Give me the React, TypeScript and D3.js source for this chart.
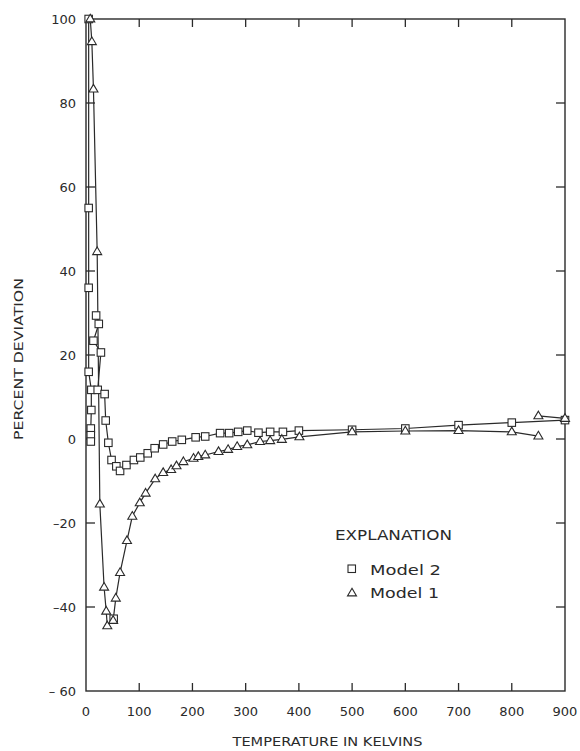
import React from "react";
import * as d3 from "d3";

// Model 2 (squares) — low-temperature column
const m2aT = [5, 5, 5, 5, 10, 10, 9, 9, 9];
const m2aV = [100, 55, 36, 16, 11.7, 6.9, 2.5, 0.9, -0.6];
// Model 2 (squares) — main curve
const m2bT = [19, 24, 14, 28, 22, 35, 37, 42, 48, 57, 64, 76, 90, 102, 116, 129, 145, 162, 180, 206, 224, 252, 269, 286, 303, 324, 346, 370, 400, 500, 600, 700, 800, 900];
const m2bV = [29.4, 27.4, 23.4, 20.6, 11.7, 10.7, 4.4, -0.9, -5, -6.5, -7.6, -6.2, -5.0, -4.4, -3.4, -2.2, -1.3, -0.6, -0.2, 0.4, 0.6, 1.4, 1.4, 1.7, 2.0, 1.5, 1.7, 1.7, 2.0, 2.2, 2.5, 3.3, 3.9, 4.5];
// Model 2 isolated point
const m2xT = [52];
const m2xV = [-42.8];

// Model 1 (triangles)
const m1T = [8, 11, 14, 21, 26, 34, 38, 40, 51, 56, 64, 77, 87, 101, 112, 130, 145, 160, 170, 183, 202, 211, 224, 249, 267, 284, 303, 327, 346, 368, 401, 500, 600, 700, 800, 850];
const m1V = [100, 94.6, 83.3, 44.6, -15.5, -35.3, -41, -44.5, -43.2, -37.9, -31.8, -24.2, -18.4, -15.2, -12.9, -9.5, -8.0, -7.3, -6.4, -5.4, -4.6, -4.2, -3.8, -3.0, -2.5, -1.8, -1.4, -0.6, -0.4, -0.1, 0.5, 1.7, 1.9, 2.0, 1.7, 0.7];
const m1tailT = [850, 900];
const m1tailV = [5.5, 4.9];

const xTicks = [0, 100, 200, 300, 400, 500, 600, 700, 800, 900];
const yTicks = [-60, -40, -20, 0, 20, 40, 60, 80, 100];
const yTickLabels = ["– 60", "–40", "–20", "0", "20", "40", "60", "80", "100"];

const W = 580, H = 751;
const INK = "#2a2a2a";
const FONT = "'DejaVu Sans', Verdana, sans-serif";

type P = [number, number];
const zip = (t: number[], v: number[]): P[] => t.map((d, i) => [d, v[i]]);

export default function App() {
  const x = d3.scaleLinear().domain([0, 900]).range([86, 565]);
  const y = d3.scaleLinear().domain([-60, 100]).range([691, 19]);
  const line = d3.line<P>().x(d => x(d[0])).y(d => y(d[1]));

  const m2a = zip(m2aT, m2aV);
  const m2b = zip(m2bT, m2bV);
  const m2x = zip(m2xT, m2xV);
  const m1 = zip(m1T, m1V);
  const m1tail = zip(m1tailT, m1tailV);

  const sq = 7.5;
  const tri = (cx: number, cy: number, s = 9) => {
    const h = s * 0.85;
    return `M${cx},${cy - h * 0.62}L${cx + s / 2},${cy + h * 0.38}L${cx - s / 2},${cy + h * 0.38}Z`;
  };

  const [x0, x1] = x.range();
  const [yb, yt] = y.range();

  return (
    <svg width={W} height={H} style={{ position: "absolute", left: 0, top: 0, background: "#fff" }} fontFamily={FONT}>
      <rect x={0} y={0} width={W} height={H} fill="#fff" />
      {/* frame */}
      <rect x={x0} y={yt} width={x1 - x0} height={yb - yt} fill="none" stroke={INK} strokeWidth={1.4} />
      {/* x ticks bottom & top */}
      {xTicks.filter(t => t > 0 && t < 900).map(t => (
        <g key={"xt" + t}>
          <line x1={x(t)} x2={x(t)} y1={yb} y2={yb - 8} stroke={INK} strokeWidth={1.3} />
          <line x1={x(t)} x2={x(t)} y1={yt} y2={yt + 8} stroke={INK} strokeWidth={1.3} />
        </g>
      ))}
      {/* y ticks left & right */}
      {yTicks.filter(t => t > -60 && t < 100).map(t => (
        <g key={"yt" + t}>
          <line x1={x0} x2={x0 + 9} y1={y(t)} y2={y(t)} stroke={INK} strokeWidth={1.3} />
          <line x1={x1} x2={x1 - 9} y1={y(t)} y2={y(t)} stroke={INK} strokeWidth={1.3} />
        </g>
      ))}
      {/* tick labels */}
      {xTicks.map(t => (
        <text key={"xl" + t} x={x(t)} y={yb + 25} textAnchor="middle" fontSize={13} fill={INK}>{t}</text>
      ))}
      {yTicks.map((t, i) => (
        <text key={"yl" + t} x={x0 - 10} y={y(t) + 5} textAnchor="end" fontSize={13} fill={INK}>{yTickLabels[i]}</text>
      ))}
      {/* axis titles */}
      <text x={(x0 + x1) / 2 + 2} y={746} textAnchor="middle" fontSize={13} fill={INK} textLength={190} lengthAdjust="spacingAndGlyphs">TEMPERATURE  IN  KELVINS</text>
      <text transform={`translate(23,${(yb + yt) / 2 + 4}) rotate(-90)`} textAnchor="middle" fontSize={13} fill={INK} textLength={162} lengthAdjust="spacingAndGlyphs">PERCENT  DEVIATION</text>

      {/* lines */}
      <g fill="none" stroke={INK} strokeWidth={1.2}>
        <path d={line(m2a) || ""} />
        <path d={line(m2b) || ""} />
        <path d={line(m1) || ""} />
        <path d={line(m1tail) || ""} />
      </g>
      {/* markers */}
      <g fill="#fff" stroke={INK} strokeWidth={1.1}>
        {[...m2a, ...m2b, ...m2x].map((d, i) => (
          <rect key={"s" + i} x={x(d[0]) - sq / 2} y={y(d[1]) - sq / 2} width={sq} height={sq} />
        ))}
        {[...m1, ...m1tail].map((d, i) => (
          <path key={"t" + i} d={tri(x(d[0]), y(d[1]))} />
        ))}
      </g>

      {/* legend */}
      <text x={335} y={540} fontSize={13.5} fill={INK} textLength={117} lengthAdjust="spacingAndGlyphs">EXPLANATION</text>
      <rect x={348} y={565} width={sq} height={sq} fill="#fff" stroke={INK} strokeWidth={1.1} />
      <text x={370} y={575} fontSize={13.5} fill={INK} textLength={71} lengthAdjust="spacingAndGlyphs">Model 2</text>
      <path d={tri(352, 593)} fill="#fff" stroke={INK} strokeWidth={1.1} />
      <text x={370} y={598} fontSize={13.5} fill={INK} textLength={69} lengthAdjust="spacingAndGlyphs">Model 1</text>
    </svg>
  );
}
